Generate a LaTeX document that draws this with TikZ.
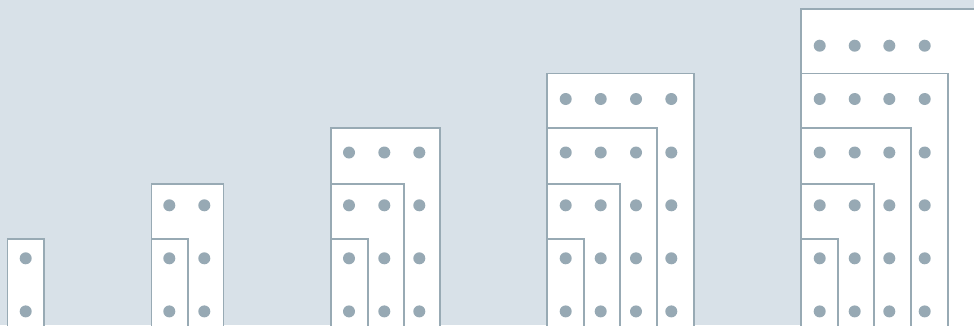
\documentclass[tikz,border=0pt]{standalone}
\definecolor{bgc}{HTML}{D8E1E8}
\definecolor{edgec}{HTML}{98AAB4}
\definecolor{dotc}{HTML}{97A9B4}
\tikzset{
  box/.style={draw=edgec, fill=white, line width=1.8pt},
  pip/.style={fill=dotc, draw=none}
}
\begin{document}
\begin{tikzpicture}[x=1pt,y=-1pt]
\useasboundingbox (0,0) rectangle (974,325);
\fill[bgc] (0,0) rectangle (974,325);
\clip (0,0) rectangle (974,325);
% group 1
\draw[box] (7.5,239) rectangle (44,340);
\foreach \y in {258.3,311.4} \fill[pip] (25.7,\y) circle (6);
% group 2
\draw[box] (151.5,184.3) rectangle (223.5,340);
\draw[box] (151.5,239) rectangle (187.7,340);
\foreach \x in {169.3,204.3} \foreach \y in {205.3,258.3,311.4} \fill[pip] (\x,\y) circle (6);
% group 3
\draw[box] (331.3,127.7) rectangle (440.3,340);
\draw[box] (331.3,184.3) rectangle (403.7,340);
\draw[box] (331.3,239) rectangle (367.7,340);
\foreach \x in {349,384.3,419.3} \foreach \y in {152.5,205.3,258.3,311.4} \fill[pip] (\x,\y) circle (6);
% group 4
\draw[box] (547.3,73.5) rectangle (694.3,340);
\draw[box] (547.3,127.7) rectangle (656.7,340);
\draw[box] (547.3,184.3) rectangle (620,340);
\draw[box] (547.3,239) rectangle (584,340);
\foreach \x in {565.7,600.7,636,671.3} \foreach \y in {99,152.5,205.3,258.3,311.4} \fill[pip] (\x,\y) circle (6);
% group 5
\draw[box] (801,9.3) rectangle (990,340);
\draw[box] (801,73.5) rectangle (947.7,340);
\draw[box] (801,127.7) rectangle (910.7,340);
\draw[box] (801,184.3) rectangle (873.7,340);
\draw[box] (801,239) rectangle (837.7,340);
\foreach \x in {819.7,854.7,889.3,924.7} \foreach \y in {45.7,99,152.5,205.3,258.3,311.4} \fill[pip] (\x,\y) circle (6);
\end{tikzpicture}
\end{document}
